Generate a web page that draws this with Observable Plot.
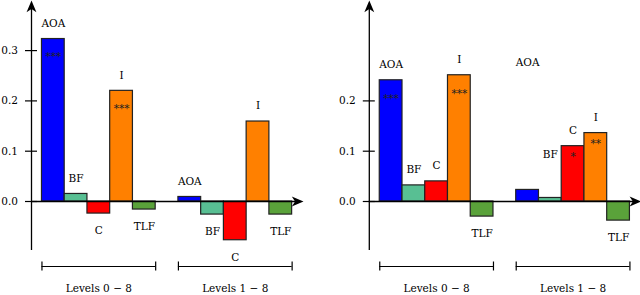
<!DOCTYPE html>
<html>
<head>
<meta charset="utf-8">
<script src="https://cdn.jsdelivr.net/npm/d3@7"></script>
<script src="https://cdn.jsdelivr.net/npm/@observablehq/plot@0.6"></script>
<style>
  html, body { margin: 0; padding: 0; background: #fff; }
  #wrap { display: flex; width: 640px; height: 295px; overflow: hidden; }
  #wrap svg { display: block; background: #fff; }
</style>
</head>
<body>
<div id="wrap"></div>
<script>
// ---- data ----
const categories = ["AOA", "BF", "C", "I", "TLF"];
const categoryColors = ["#0000ff", "#58bf93", "#ff0000", "#ff8000", "#5aa23a"];
const groups = ["Levels 0 \u2212 8", "Levels 1 \u2212 8"];

const leftValues = [
  [0.323, 0.015, -0.024, 0.220, -0.016],
  [0.009, -0.026, -0.077, 0.159, -0.026]
];
const leftStars = [
  ["***", "", "", "***", ""],
  ["", "", "", "", ""]
];
const leftTicks = [0.0, 0.1, 0.2, 0.3];

const rightValues = [
  [0.241, 0.032, 0.040, 0.251, -0.030],
  [0.023, 0.007, 0.110, 0.136, -0.038]
];
const rightStars = [
  ["***", "", "", "***", ""],
  ["", "", "*", "**", ""]
];
// value at which each category label is anchored (two labels float above their bars)
const rightLabelAt = [
  [0.241, 0.032, 0.040, 0.251, -0.030],
  [0.245, 0.062, 0.110, 0.136, -0.038]
];
const rightTicks = [0.0, 0.1, 0.2];

// ---- helpers ----
const FONT = "DejaVu Serif, Liberation Serif, serif";
const FS = 10.5;

const arrowUp = {
  draw(ctx, size) {
    const r = Math.sqrt(size / Math.PI);
    const L = r * 2.6, w = r * 1.1;
    ctx.moveTo(0, 0); ctx.lineTo(w, L); ctx.lineTo(0, L * 0.72); ctx.lineTo(-w, L); ctx.closePath();
  }
};
const arrowRight = {
  draw(ctx, size) {
    const r = Math.sqrt(size / Math.PI);
    const L = r * 2.6, w = r * 1.1;
    ctx.moveTo(0, 0); ctx.lineTo(-L, -w); ctx.lineTo(-L * 0.72, 0); ctx.lineTo(-L, w); ctx.closePath();
  }
};

function panel(values, stars, labelAt, ticks, xRange) {
  const rows = [];
  values.forEach((vals, g) => {
    vals.forEach((v, c) => {
      rows.push({slot: g * 6 + c, value: v, cat: categories[c], color: categoryColors[c], star: stars[g][c], labelAt: labelAt[g][c]});
    });
  });
  const grp = groups.map((name, g) => ({name, start: g * 6, end: g * 6 + 5}));
  const xAxis = -0.46, xEnd = 11.5;
  const yTop = 0.3996, yBottom = -0.0974, bracketY = -0.1292;
  const txt = {fill: "#000", fontFamily: FONT, fontSize: FS};

  return Plot.plot({
    width: 320, height: 295, margin: 0,
    x: {type: "linear", domain: [xAxis, xEnd], range: xRange, axis: null},
    y: {type: "linear", domain: [-0.18688, yTop], range: [295, 0], axis: null},
    marks: [
      // bars
      Plot.rectY(rows, {x1: "slot", x2: d => d.slot + 1, y1: 0, y2: "value", fill: d => d.color, stroke: "#222", strokeWidth: 1.2}),
      // axes with arrow heads
      Plot.ruleX([xAxis], {y1: yBottom, y2: yTop - 0.01, stroke: "#000", strokeWidth: 1.3}),
      Plot.ruleY([0], {x1: xAxis, x2: xEnd - 0.2, stroke: "#000", strokeWidth: 1.3}),
      Plot.dot([[xAxis, yTop]], {x: d => d[0], y: d => d[1], symbol: arrowUp, r: 4.5, fill: "#000", stroke: null}),
      Plot.dot([[xEnd, 0]], {x: d => d[0], y: d => d[1], symbol: arrowRight, r: 4.5, fill: "#000", stroke: null}),
      // y ticks
      Plot.ruleY(ticks, {y: d => d, x1: xAxis, x2: xAxis, insetLeft: -6, insetRight: -6, stroke: "#000", strokeWidth: 1.2}),
      Plot.text(ticks, {x: xAxis, y: d => d, text: d => d.toFixed(1), textAnchor: "end", dx: -13.5, ...txt}),
      // category labels
      Plot.text(rows.filter(d => d.value >= 0), {x: d => d.slot + 0.5, y: "labelAt", text: "cat", dy: -15.5, ...txt}),
      Plot.text(rows.filter(d => d.value < 0), {x: d => d.slot + 0.5, y: "labelAt", text: "cat", dy: 17, ...txt}),
      // significance stars
      Plot.text(rows.filter(d => d.star && d.value > 0.2), {x: d => d.slot + 0.5, y: "value", text: "star", dy: 18, ...txt, fill: "#222"}),
      Plot.text(rows.filter(d => d.star && d.value <= 0.2), {x: d => d.slot + 0.5, y: "value", text: "star", dy: 10.5, ...txt, fill: "#222"}),
      // group brackets
      Plot.ruleY(grp, {y: bracketY, x1: "start", x2: "end", stroke: "#000", strokeWidth: 1.2}),
      Plot.ruleX(grp, {x: "start", y1: bracketY, y2: bracketY, insetTop: -4.5, insetBottom: -4.5, stroke: "#000", strokeWidth: 1.2}),
      Plot.ruleX(grp, {x: "end", y1: bracketY, y2: bracketY, insetTop: -4.5, insetBottom: -4.5, stroke: "#000", strokeWidth: 1.2}),
      Plot.text(grp, {x: d => (d.start + d.end) / 2, y: bracketY, text: "name", dy: 22.5, ...txt})
    ]
  });
}

const wrap = document.getElementById("wrap");
wrap.appendChild(panel(leftValues, leftStars, leftValues, leftTicks, [31, 303]));
wrap.appendChild(panel(rightValues, rightStars, rightLabelAt, rightTicks, [48.8, 320.8]));
</script>
</body>
</html>
